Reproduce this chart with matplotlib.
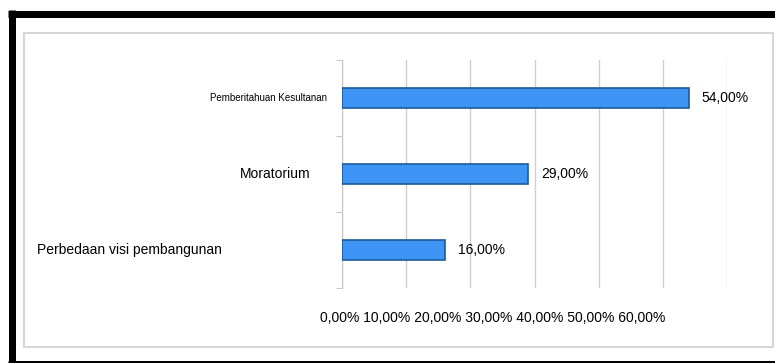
import matplotlib.pyplot as plt
from matplotlib.transforms import blended_transform_factory

plt.rcParams["font.family"] = ["Liberation Sans", "DejaVu Sans"]

# data
categories = ["Pemberitahuan Kesultanan", "Moratorium", "Perbedaan visi pembangunan"]
values = [54.0, 29.0, 16.0]
x_ticks = [0, 10, 20, 30, 40, 50, 60]

def pct(v):
    return f"{v:.2f}".replace(".", ",") + "%"

W, H = 775, 363
fig = plt.figure(figsize=(W / 100, H / 100), dpi=100)

# frame layer in pixel coords
bg = fig.add_axes([0, 0, 1, 1], zorder=0)
bg.set_xlim(0, W)
bg.set_ylim(H, 0)
bg.axis("off")
bg.plot([8, W], [13.5, 13.5], color="black", lw=7 * 0.72, solid_capstyle="butt")
bg.plot([11.5, 11.5], [10, H], color="black", lw=7 * 0.72, solid_capstyle="butt")
bg.plot([8, W], [362, 362], color="black", lw=3 * 0.72, solid_capstyle="butt")
bg.add_patch(plt.Rectangle((24, 33), 749, 314, fill=False, ec="#d6d6d6", lw=1.5))

# main chart
ax = fig.add_axes([342 / W, 1 - 288 / H, 385 / W, 228 / H], zorder=1)
ax.patch.set_alpha(0)
ypos = list(range(len(categories)))
ax.barh(ypos, values, height=0.26, color="#3d94f5", edgecolor="#1d5a9c", lw=1.2, zorder=3)
ax.set_xlim(0, 60)
ax.set_ylim(2.5, -0.5)

for s in ["top", "right", "bottom"]:
    ax.spines[s].set_visible(False)
ax.spines["left"].set_color("#c8c8c8")
ax.set_xticks(x_ticks)
ax.tick_params(axis="x", length=0, labelbottom=False)
ax.grid(axis="x", color="#cfcfcf", lw=1)
ax.set_yticks([])
ax.set_yticks([-0.5, 0.5, 1.5, 2.5], minor=True)
ax.tick_params(axis="y", which="minor", length=4, color="#bbbbbb")

# category labels (each drawn a bit differently, as in the source)
tr = blended_transform_factory(ax.transAxes, ax.transData)
label_style = [(-0.039, "right", 7), (-0.083, "right", 10), (-0.792, "left", 10)]
for i, (cat, (xa, ha, fs)) in enumerate(zip(categories, label_style)):
    ax.text(xa, i, cat, transform=tr, ha=ha, va="center", fontsize=fs)

for i, v in enumerate(values):
    ax.annotate(pct(v), (v, i), xytext=(13, 0), textcoords="offset pixels",
                ha="left", va="center", fontsize=10)

# x labels, squeezed together under the chart
bg.text(320, 318, " ".join(pct(t) for t in x_ticks), ha="left", va="center", fontsize=10)

fig.savefig("out.png", dpi=100)
